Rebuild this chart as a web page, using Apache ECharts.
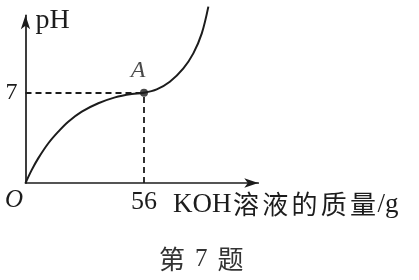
<!DOCTYPE html>
<html>
<head>
<meta charset="utf-8">
<script src="https://cdn.jsdelivr.net/npm/echarts@6/dist/echarts.min.js"></script>
<style>html,body{margin:0;padding:0;background:#fff;}#c{width:419px;height:280px;}</style>
</head>
<body>
<div id="c"></div>
<script>
// Data: KOH solution mass (g) vs pH
var massKOH = [0, 2.9, 6.0, 10.8, 15.5, 20.2, 26.6, 34.4, 42.3, 50.2, 56, 62.0, 68.2, 74.6, 79.3, 83.3, 86.4];
var pHValues = [0, 1.0, 1.91, 3.08, 3.98, 4.75, 5.53, 6.18, 6.64, 6.90, 7.0, 7.26, 7.85, 8.89, 10.05, 11.6, 13.67];
var pointA = [56, 7];
var xTickValues = [56];
var yTickValues = [7];
var xAxisMax = 110;
var yAxisMax = 13;

var curve = massKOH.map(function (m, i) { return [m, pHValues[i]]; });
var ink = '#1c1c1c';
var serif = '"Liberation Serif", "Times New Roman", serif';
var cjk = '"Noto Sans CJK SC", sans-serif';

var chart = echarts.init(document.getElementById('c'), null, {renderer: 'canvas'});
chart.setOption({
  backgroundColor: '#fff',
  animation: false,
  grid: {left: 25.5, right: 160.7, top: 15.3, bottom: 97},
  xAxis: {
    type: 'value', min: 0, max: xAxisMax,
    splitLine: {show: false},
    axisTick: {show: false},
    axisLine: {lineStyle: {color: ink, width: 1.7}, symbol: ['none', 'arrow'], symbolSize: [7, 14]},
    axisLabel: {customValues: xTickValues, color: ink, fontFamily: serif, fontSize: 26, margin: 6}
  },
  yAxis: {
    type: 'value', min: 0, max: yAxisMax,
    splitLine: {show: false},
    axisTick: {show: false},
    axisLine: {lineStyle: {color: ink, width: 1.7}, symbol: ['none', 'arrow'], symbolSize: [7, 14]},
    axisLabel: {customValues: yTickValues, color: ink, fontFamily: serif, fontSize: 24, margin: 8},
    name: 'pH', nameLocation: 'end', nameGap: -5,
    nameTextStyle: {color: ink, fontFamily: serif, fontSize: 28, align: 'left', verticalAlign: 'middle', padding: [0, 0, 0, 10]}
  },
  series: [
    {
      type: 'line', data: curve, smooth: 0.35, showSymbol: false, clip: false,
      lineStyle: {color: ink, width: 2},
      markLine: {
        silent: true, symbol: 'none', animation: false,
        lineStyle: {color: ink, width: 1.8, type: [6, 4]},
        label: {show: false},
        data: [
          [{coord: [0, pointA[1]]}, {coord: pointA}],
          [{coord: [pointA[0], 0]}, {coord: pointA}]
        ]
      }
    },
    {
      type: 'scatter', data: [pointA], symbol: 'circle', symbolSize: 8,
      itemStyle: {color: ink},
      label: {show: true, formatter: 'A', position: 'top', offset: [-6, -1], color: ink, fontFamily: serif, fontStyle: 'italic', fontSize: 24}
    }
  ],
  graphic: [
    {type: 'text', left: 5, top: 188, style: {text: 'O', fontFamily: serif, fontStyle: 'italic', fontSize: 25, fill: ink}},
    {type: 'text', left: 173, top: 191, style: {
      text: '{k|KOH}{c|溶}{c|液}{c|的}{c|质}{c|量}{k|/g}', fill: ink,
      rich: {
        k: {fontFamily: serif, fontSize: 27, fill: ink},
        c: {fontFamily: cjk, fontSize: 26, padding: [0, 1.6], fill: ink}
      }
    }},
    {type: 'text', left: 159, top: 246, style: {
      text: '{c|第}{d|7}{c|题}', fill: ink,
      rich: {
        c: {fontFamily: cjk, fontSize: 26, fill: '#333'},
        d: {fontFamily: serif, fontSize: 25, padding: [0, 10], fill: '#333'}
      }
    }}
  ]
});
</script>
</body>
</html>
